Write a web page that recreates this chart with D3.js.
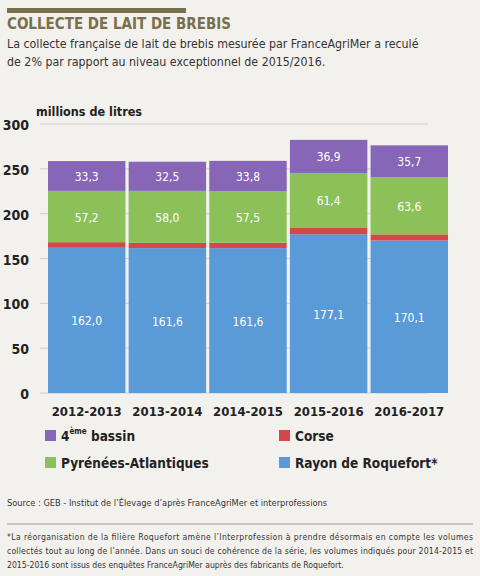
<!DOCTYPE html><html><head><meta charset="utf-8">
<script src="https://cdn.jsdelivr.net/npm/d3@7"></script>
<style>body{margin:0;background:#f3f1ed}</style></head><body>
<svg id="c" width="480" height="576"></svg>
<script>
const categories=["2012-2013","2013-2014","2014-2015","2015-2016","2016-2017"];
const roquefort=[162.0,161.6,161.6,177.1,170.1];
const corse=[6.2,5.8,6.0,6.9,6.8];
const pyrenees=[57.2,58.0,57.5,61.4,63.6];
const bassin4=[33.3,32.5,33.8,36.9,35.7];
const yTicks=[0,50,100,150,200,250,300];
const seriesNames=["Rayon de Roquefort*","Corse","Pyrénées-Atlantiques","4ème bassin"];
const colors=["#5a9ad6","#d4474a","#8cc15a","#8766b8"];
const svg=d3.select("#c");
svg.append("rect").attr("width",480).attr("height",576).attr("fill","#f3f1ed");
svg.append("rect").attr("x",7).attr("y",8).attr("width",179).attr("height",5).attr("fill","#77704a");
const cf="'DejaVu Sans Condensed','DejaVu Sans',sans-serif";
svg.append("text").attr("x",7).attr("y",29).text("COLLECTE DE LAIT DE BREBIS").attr("font-family",cf).attr("font-weight","bold").attr("font-size",15).attr("fill","#77704a");
svg.append("text").attr("x",7).attr("y",48).text("La collecte française de lait de brebis mesurée par FranceAgriMer a reculé").attr("font-family",cf).attr("font-size",12.3).attr("fill","#333");
svg.append("text").attr("x",7).attr("y",66).text("de 2% par rapport au niveau exceptionnel de 2015/2016.").attr("font-family",cf).attr("font-size",12.3).attr("fill","#333");
svg.append("text").attr("x",36).attr("y",116).text("millions de litres").attr("font-family",cf).attr("font-weight","bold").attr("font-size",12.5).attr("fill","#222");
const y=d3.scaleLinear().domain([0,300]).range([393,124]);
const x=d3.scaleBand().domain(categories).range([48,448]).paddingInner(0.04).paddingOuter(0);
const g=svg.append("g");
yTicks.forEach(t=>{
 g.append("line").attr("x1",40).attr("x2",428).attr("y1",y(t)).attr("y2",y(t)).attr("stroke","#cfcdc8").attr("stroke-width",1);
 g.append("text").attr("x",29).attr("y",y(t)+6).attr("text-anchor","end").text(t).attr("font-family",cf).attr("font-weight","bold").attr("font-size",14).attr("fill","#222");
});
const rows=categories.map((c,i)=>({cat:c,s0:roquefort[i],s1:corse[i],s2:pyrenees[i],s3:bassin4[i]}));
const stack=d3.stack().keys(["s0","s1","s2","s3"])(rows);
const bw=x.bandwidth();
stack.forEach((layer,k)=>{
 layer.forEach(d=>{
  const cx=x(d.data.cat)+bw/2;
  g.append("rect").attr("x",cx-bw/2).attr("width",bw).attr("y",y(d[1])).attr("height",y(d[0])-y(d[1])).attr("fill",colors[k]);
  const v=d[1]-d[0];
  const ty=k==1?y(d[1])-2:(y(d[0])+y(d[1]))/2+5;
  g.append("text").attr("x",cx).attr("y",ty).attr("text-anchor","middle").text(v.toFixed(1).replace(".",",")).attr("font-family",cf).attr("font-size",12).attr("fill","#fff");
 });
});
categories.forEach(c=>{
 g.append("text").attr("x",x(c)+bw/2).attr("y",416).attr("text-anchor","middle").text(c).attr("font-family",cf).attr("font-weight","bold").attr("font-size",13).attr("fill","#222");
});
const leg=[{i:3,x:45,y:441},{i:1,x:279,y:441},{i:2,x:45,y:468},{i:0,x:279,y:468}];
leg.forEach(l=>{
 svg.append("rect").attr("x",l.x).attr("y",l.y-11).attr("width",11).attr("height",11).attr("fill",colors[l.i]);
 const t=svg.append("text").attr("x",l.x+16).attr("y",l.y).attr("font-family",cf).attr("font-weight","bold").attr("font-size",13.5).attr("fill","#222");
 if(l.i==3){t.append("tspan").text("4");t.append("tspan").text("ème").attr("font-size",8).attr("dy",-7);t.append("tspan").text(" bassin").attr("dy",7);}
 else t.text(seriesNames[l.i]);
});
svg.append("text").attr("x",7).attr("y",506).text("Source : GEB - Institut de l’Élevage d’après FranceAgriMer et interprofessions").attr("font-family",cf).attr("font-size",9.2).attr("fill","#333");
svg.append("line").attr("x1",7).attr("x2",473).attr("y1",524).attr("y2",524).attr("stroke","#999");
["*La réorganisation de la filière Roquefort amène l’Interprofession à prendre désormais en compte les volumes","collectés tout au long de l’année. Dans un souci de cohérence de la série, les volumes indiqués pour 2014-2015 et","2015-2016 sont issus des enquêtes FranceAgriMer auprès des fabricants de Roquefort."].forEach((s,i)=>{
 svg.append("text").attr("x",7).attr("y",540+i*14).text(s).attr("font-family",cf).attr("font-size",8.6).attr("fill","#333").attr("textLength",i<2?466:null);
});
</script></body></html>
